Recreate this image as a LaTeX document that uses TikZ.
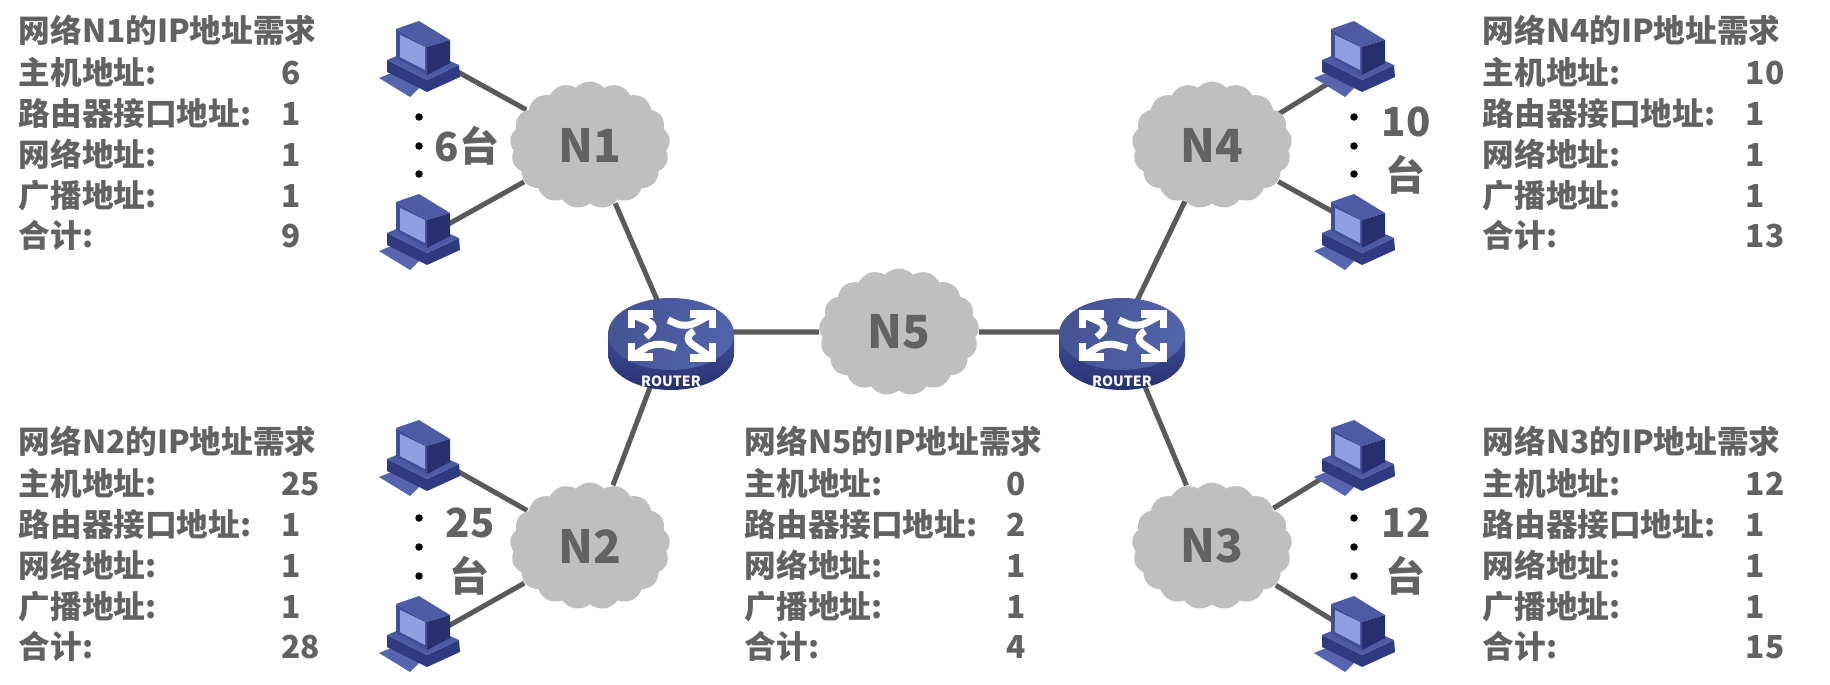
\documentclass[tikz,border=0pt]{standalone}
\usepackage{fontspec}
\setmainfont{Noto Sans CJK SC}
\usetikzlibrary{shapes.symbols, backgrounds, calc}
\definecolor{inkgray}{HTML}{626262}
\definecolor{cloudgray}{HTML}{BFBFBF}
\definecolor{linkgray}{HTML}{5A5A5A}
\definecolor{pcframe}{HTML}{414F97}
\definecolor{pctop}{HTML}{4C5BA3}
\definecolor{pcdark}{HTML}{272F6E}
\definecolor{pcscreen}{HTML}{8F9FE0}
\definecolor{pcside}{HTML}{2F3A80}
\definecolor{pckeys}{HTML}{5565B0}
\definecolor{rtface}{HTML}{5163AC}
\definecolor{rtlight}{HTML}{3F4D97}
\definecolor{rtdark}{HTML}{27316F}

\tikzset{
	pics/computer/.style={code={
		\coordinate (-hub) at (0,0);
		\coordinate (-high) at (0,-8);
		\coordinate (-low) at (0,8);
		% keyboard and base
		\fill[pckeys] (-41,19) -- (-24,12) -- (0,28) -- (-10,38) -- cycle;
		\fill[pcside] (-33,1) -- (7,21) -- (39,6) -- (40,18) -- (7,33) -- (-33,13) -- cycle;
		\fill[pctop] (-33,1) -- (-2,-12) -- (39,6) -- (7,21) -- cycle;
		% monitor
		\fill[pctop] (-24,-30) -- (-1,-38) -- (30,-19) -- (7,-12) -- cycle;
		\fill[pcdark] (7,-12) -- (30,-19) -- (30,4) -- (7,16) -- cycle;
		\fill[pcframe] (-24,-30) -- (7,-12) -- (7,16) -- (-24,-1) -- cycle;
		\fill[pcscreen] (-20,-24) -- (5,-12) -- (5,11) -- (-20,-2) -- cycle;
	}},
	pics/router/.style={code={
		\coordinate (-hub) at (0,-2);
		% body
		\path[top color=rtlight, bottom color=rtdark] (-63,0) -- (-63,20) arc[start angle=180, end angle=360, x radius=63, y radius=-36] -- (63,0) -- cycle;
		\path[left color=rtface!85!black, right color=rtface, shading angle=70] (0,0) circle[x radius=63, y radius=36];
		\node[font=\bfseries\fontsize{4}{5}\selectfont, text=white, inner sep=0pt] (-tag) at (0,47) {ROUTER};
		% arrows
		\foreach \tipx/\tipy/\armx/\army/\midx/\midy/\endx/\endy in {-40/-20/-18/-6/-13/-8/-25/3, 41/-20/19/-6/15/-6/-3/-14, -40/23/-18/9/-16/8/5/14, 41/24/19/9/12/4/23/-3}{
			\draw[white, line width=0.07cm] (\armx,\tipy) -- (\tipx,\tipy) -- (\tipx,\army);
			\draw[white, line width=0.07cm, rounded corners=3] (\tipx,\tipy) -- (\midx,\midy) -- (\endx,\endy);
		}
	}}
}

\begin{document}
\begin{tikzpicture}[x=0.01cm, y=-0.01cm]
	
	% Define block styles
	\tikzstyle{netcloud} = [cloud, cloud puffs=17, cloud puff arc=95, aspect=1.27, minimum width=1.6cm, minimum height=1.27cm, inner sep=0pt, fill=cloudgray, text=inkgray, font=\bfseries\fontsize{13}{15}\selectfont]
	\tikzstyle{link} = [line width=0.05cm, linkgray]
	\tikzstyle{dot} = [circle, fill=black, minimum size=0.075cm, inner sep=0pt]
	\tikzstyle{count} = [text=inkgray, inner sep=0pt, font=\bfseries\fontsize{11.4}{13}\selectfont]
	\tikzstyle{rowtext} = [anchor=mid west, text=inkgray, inner sep=0pt, font=\bfseries\fontsize{9}{10}\selectfont]
	
	\useasboundingbox (0,0) rectangle (1830,685);
	
	% Nodes
	\node[netcloud] (n1) at (590,145) {N1};
	\node[netcloud] (n2) at (590,546) {N2};
	\node[netcloud] (n3) at (1212,546) {N3};
	\node[netcloud] (n4) at (1212,145) {N4};
	\node[netcloud] (n5) at (899,332) {N5};
	
	\pic (r1) at (671,334) {router};
	\pic (r2) at (1122,334) {router};
	
	\pic (pc1a) at (420,59) {computer};
	\pic (pc1b) at (420,232) {computer};
	\pic (pc2a) at (420,458) {computer};
	\pic (pc2b) at (420,634) {computer};
	\pic (pc3a) at (1355,458) {computer};
	\pic (pc3b) at (1355,634) {computer};
	\pic (pc4a) at (1355,59) {computer};
	\pic (pc4b) at (1355,232) {computer};
	
	\coordinate (n4low) at (1212,155);
	
	% Links
	\begin{scope}[on background layer]
		\draw[link] (pc1a-high) -- (n1);
		\draw[link] (pc1b-low) -- (n1);
		\draw[link] (pc2a-high) -- (n2);
		\draw[link] (pc2b-low) -- (n2);
		\draw[link] (pc3a-hub) -- (n3);
		\draw[link] (pc3b-hub) -- (n3);
		\draw[link] (pc4a-low) -- (n4low);
		\draw[link] (pc4b-high) -- (n4);
		\draw[link] (n1) -- (r1-hub);
		\draw[link] (n2) -- (r1-hub);
		\draw[link] (n4) -- (r2-hub);
		\draw[link] (n3) -- (r2-hub);
		\draw[link] (r1-hub) -- (n5);
		\draw[link] (n5) -- (r2-hub);
	\end{scope}
	
	% Dots
	\foreach \dotname/\dotx/\doty in {a/419/117, b/419/146, c/419/174, d/419/518, e/419/547, f/419/576, g/1354/117, h/1354/146, i/1354/174, j/1354/518, k/1354/547, l/1354/576}
		\node[dot] (dot\dotname) at (\dotx,\doty) {};
	
	% Labels
	\node[count] (c1) at (467,146) {6台};
	\node[count] (c2) at (470,523) {25};
	\node[count] (c2u) at (470,576) {台};
	\node[count] (c3) at (1406,523) {12};
	\node[count] (c3u) at (1406,576) {台};
	\node[count] (c4) at (1406,122) {10};
	\node[count] (c4u) at (1406,175) {台};
	
	% Address tables
	\foreach \netname/\leftx/\valx/\topy/\hosts/\ports/\total in {N1/18/281/33/6/1/9, N2/18/281/444/25/1/28, N5/744/1006/444/0/2/4, N4/1482/1745/33/10/1/13, N3/1482/1745/444/12/1/15}{
		\node[rowtext] (\netname-title) at (\leftx,\topy) {网络\netname 的IP地址需求};
		\node[rowtext] (\netname-a) at (\leftx,\topy+42) {主机地址:};
		\node[rowtext] (\netname-b) at (\leftx,\topy+83) {路由器接口地址:};
		\node[rowtext] (\netname-c) at (\leftx,\topy+124) {网络地址:};
		\node[rowtext] (\netname-d) at (\leftx,\topy+165) {广播地址:};
		\node[rowtext] (\netname-e) at (\leftx,\topy+205) {合计:};
		\node[rowtext] (\netname-av) at (\valx,\topy+42) {\hosts};
		\node[rowtext] (\netname-bv) at (\valx,\topy+83) {\ports};
		\node[rowtext] (\netname-cv) at (\valx,\topy+124) {1};
		\node[rowtext] (\netname-dv) at (\valx,\topy+165) {1};
		\node[rowtext] (\netname-ev) at (\valx,\topy+205) {\total};
	}
	
\end{tikzpicture}
\end{document}
